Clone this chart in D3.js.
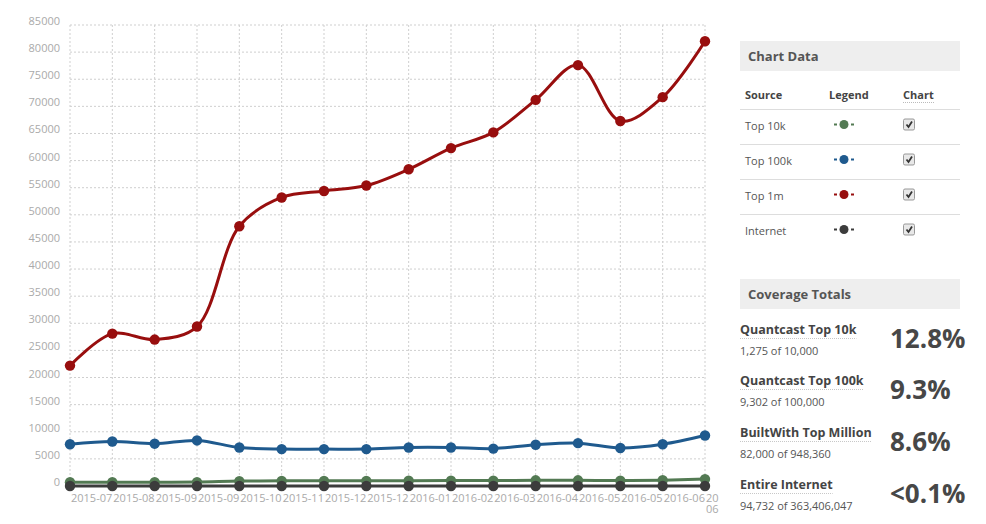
<!DOCTYPE html>
<html>
<head>
<meta charset="utf-8">
<script src="https://cdn.jsdelivr.net/npm/d3@7"></script>
<style>
  html, body { margin: 0; padding: 0; background: #fff; }
  svg { display: block; font-family: "Open Sans", "DejaVu Sans", sans-serif; }
</style>
</head>
<body>
<svg id="chart" width="986" height="524"></svg>
<script>
// ---------- DATA ----------
const months = ["2015-07","2015-08","2015-09","2015-09","2015-10","2015-11","2015-12","2015-12",
                "2016-01","2016-02","2016-03","2016-04","2016-05","2016-05","2016-06","2016-06"];
const top10k   = [700, 700, 700, 720, 900, 950, 950, 950, 980, 1000, 1000, 1050, 1050, 1000, 1080, 1275];
const top100k  = [7700, 8200, 7800, 8400, 7100, 6800, 6800, 6800, 7100, 7100, 6900, 7600, 7900, 7000, 7700, 9302];
const top1m    = [22200, 28100, 27000, 29400, 47900, 53200, 54400, 55400, 58400, 62300, 65200, 71200, 77600, 67300, 71700, 82000];
const internet = [0, 0, 0, 0, 0, 0, 0, 0, 0, 0, 0, 0, 0, 0, 0, 0];
const yTicks = [0,5000,10000,15000,20000,25000,30000,35000,40000,45000,50000,55000,60000,65000,70000,75000,80000,85000];

const legendRows = ["Top 10k", "Top 100k", "Top 1m", "Internet"];
const coverageTitles = ["Quantcast Top 10k", "Quantcast Top 100k", "BuiltWith Top Million", "Entire Internet"];
const coverageSubs = ["1,275 of 10,000", "9,302 of 100,000", "82,000 of 948,360", "94,732 of 363,406,047"];
const coveragePcts = ["12.8%", "9.3%", "8.6%", "<0.1%"];

const colors = { top10k: "#537a53", top100k: "#1f5a8e", top1m: "#980e0e", internet: "#3c3c3c" };
const seriesList = [
  { key: "top10k", values: top10k },
  { key: "top100k", values: top100k },
  { key: "top1m", values: top1m },
  { key: "internet", values: internet }
];

// ---------- CHART ----------
const svg = d3.select("#chart");
const x = d3.scalePoint().domain(d3.range(months.length)).range([70, 705]);
const y = d3.scaleLinear().domain([0, 85000]).range([486, 25]);

const grid = svg.append("g");
grid.selectAll("line.v").data(d3.range(months.length)).join("line")
  .attr("x1", d => x(d)).attr("x2", d => x(d))
  .attr("y1", y(85000)).attr("y2", y(0))
  .attr("stroke", "#cfcfcf").attr("stroke-dasharray", "2,2").attr("stroke-width", 1);
grid.selectAll("line.h").data(yTicks).join("line")
  .attr("x1", x(0)).attr("x2", x(months.length - 1))
  .attr("y1", d => y(d)).attr("y2", d => y(d))
  .attr("stroke", "#cfcfcf").attr("stroke-dasharray", "2,2").attr("stroke-width", 1);

// y labels
svg.append("g").selectAll("text").data(yTicks).join("text")
  .attr("x", 60).attr("y", d => y(d))
  .attr("text-anchor", "end")
  .attr("font-size", 11).attr("fill", "#aaa")
  .text(d => d);

// x labels (left-aligned at each point)
const xl = svg.append("g");
xl.selectAll("text").data(d3.range(months.length - 1)).join("text")
  .attr("x", d => x(d) + 1).attr("y", 501.5)
  .attr("font-size", 11).attr("fill", "#aaa")
  .text(d => months[d]);
// last label is cut by the chart edge and wraps onto a second line
const lastIdx = months.length - 1;
const lastT = xl.append("text").attr("x", x(lastIdx) + 1).attr("y", 501.5)
  .attr("font-size", 11).attr("fill", "#aaa");
lastT.append("tspan").attr("x", x(lastIdx) + 1).text(months[lastIdx].slice(0, 2));
lastT.append("tspan").attr("x", x(lastIdx) + 1).attr("dy", 11).text(months[lastIdx].slice(5));

// lines
const line = d3.line()
  .x((d, i) => x(i)).y(d => y(d))
  .curve(d3.curveCatmullRom.alpha(0.5));
seriesList.forEach(s => {
  const g = svg.append("g");
  g.append("path").datum(s.values)
    .attr("d", line).attr("fill", "none")
    .attr("stroke", colors[s.key]).attr("stroke-width", 3);
  g.selectAll("circle").data(s.values).join("circle")
    .attr("cx", (d, i) => x(i)).attr("cy", d => y(d))
    .attr("r", 5.2).attr("fill", colors[s.key]);
});

// ---------- RIGHT PANEL ----------
const panel = svg.append("g");
function header(yTop, label) {
  panel.append("rect").attr("x", 740).attr("y", yTop).attr("width", 220).attr("height", 30).attr("fill", "#eeeeee");
  panel.append("text").attr("x", 748).attr("y", yTop + 20).attr("font-size", 13)
    .attr("font-weight", "bold").attr("fill", "#555").text(label);
}
header(41, "Chart Data");

// table header
[["Source", 745], ["Legend", 829], ["Chart", 903]].forEach(([t, xx]) => {
  panel.append("text").attr("x", xx).attr("y", 99).attr("font-size", 11)
    .attr("font-weight", "bold").attr("fill", "#444").text(t);
});
panel.append("line").attr("x1", 903).attr("x2", 934).attr("y1", 102.5).attr("y2", 102.5)
  .attr("stroke", "#bbb").attr("stroke-dasharray", "1,1");

const rowKeys = ["top10k", "top100k", "top1m", "internet"];
legendRows.forEach((name, i) => {
  const lineY = 109 + i * 35;
  panel.append("line").attr("x1", 740).attr("x2", 960).attr("y1", lineY + 0.5).attr("y2", lineY + 0.5)
    .attr("stroke", "#dddddd");
  const cy = lineY + 15.5;
  panel.append("text").attr("x", 745).attr("y", lineY + 21).attr("font-size", 11)
    .attr("fill", "#555").text(name);
  const c = colors[rowKeys[i]];
  panel.append("rect").attr("x", 834).attr("y", cy - 1).attr("width", 3).attr("height", 2).attr("fill", c);
  panel.append("rect").attr("x", 851).attr("y", cy - 1).attr("width", 3).attr("height", 2).attr("fill", c);
  panel.append("circle").attr("cx", 844).attr("cy", cy).attr("r", 4.5).attr("fill", c);
  // checkbox
  panel.append("rect").attr("x", 903.5).attr("y", cy - 5.5).attr("width", 11).attr("height", 11)
    .attr("rx", 1.5).attr("fill", "#e8e8e8").attr("stroke", "#999");
  panel.append("path").attr("d", `M906.5,${cy} L908.5,${cy + 2.5} L912,${cy - 3}`)
    .attr("fill", "none").attr("stroke", "#333").attr("stroke-width", 1.8);
});

header(279, "Coverage Totals");
const titleBase = [334, 385, 437, 489];
coverageTitles.forEach((t, i) => {
  const by = titleBase[i];
  const tt = panel.append("text").attr("x", 740).attr("y", by).attr("font-size", 12.5)
    .attr("font-weight", "bold").attr("fill", "#444").text(t);
  const w = tt.node().getComputedTextLength();
  panel.append("line").attr("x1", 740).attr("x2", 740 + w).attr("y1", by + 4.5).attr("y2", by + 4.5)
    .attr("stroke", "#c8c8c8").attr("stroke-dasharray", "1,1");
  panel.append("text").attr("x", 740).attr("y", by + 20.5).attr("font-size", 11)
    .attr("fill", "#555").text(coverageSubs[i]);
  panel.append("text").attr("x", 890).attr("y", by + 14).attr("font-size", 26)
    .attr("font-weight", "bold").attr("fill", "#474747").text(coveragePcts[i]);
});
</script>
</body>
</html>
